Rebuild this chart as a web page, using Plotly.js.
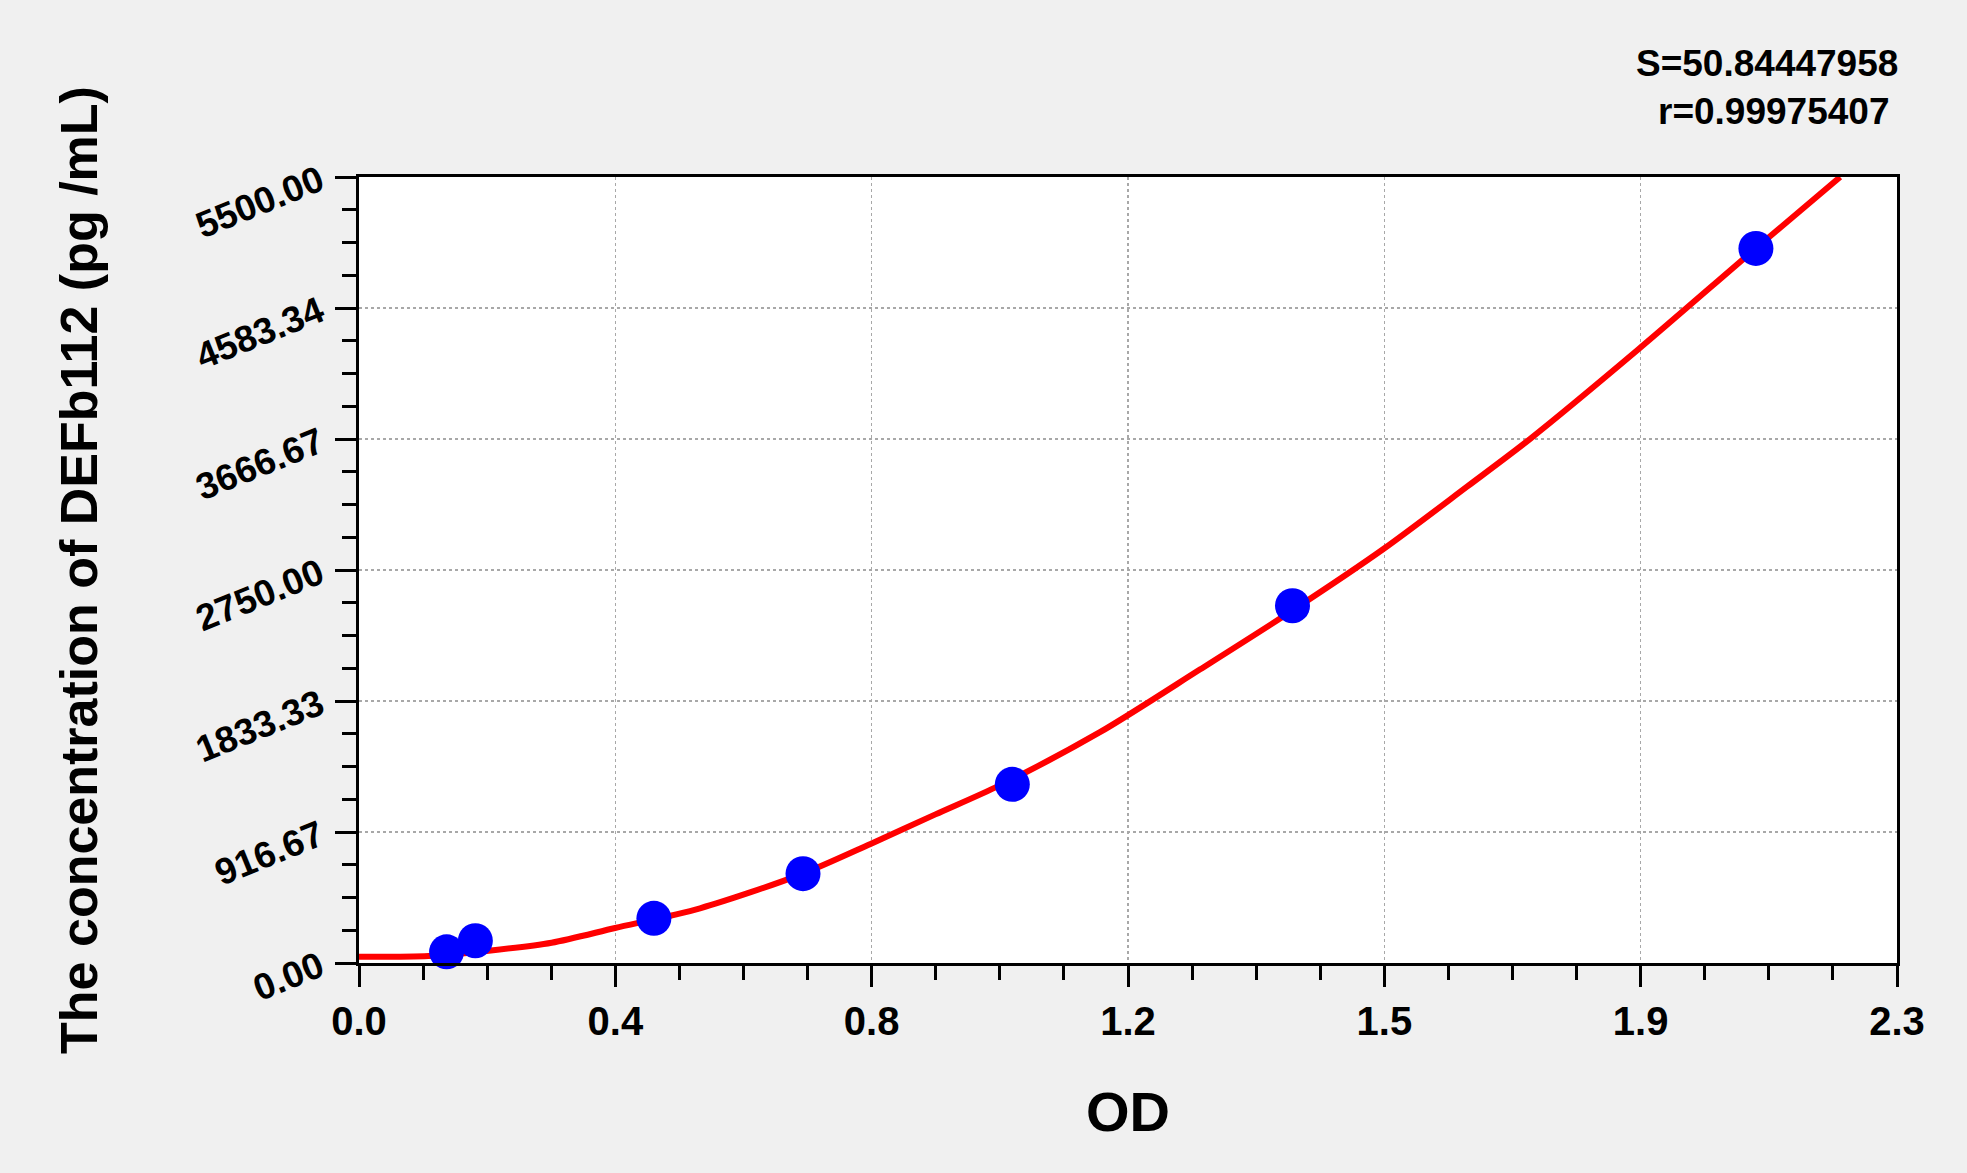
<!DOCTYPE html>
<html>
<head>
<meta charset="utf-8">
<script src="https://cdn.plot.ly/plotly-3.0.1.min.js"></script>
<style>
  html, body { margin: 0; padding: 0; background: #f0f0f0; }
  #chart { width: 1967px; height: 1173px; }
</style>
</head>
<body>
<div id="chart"></div>
<script>
// === Standard points (OD vs concentration) === //
var odValues = [0.131, 0.174, 0.441, 0.664, 0.977, 1.396, 2.089];
var concValues = [78, 156, 312.5, 625, 1250, 2500, 5000];

// === Fitted curve === //
var curveOD = [0, 0.104, 0.194, 0.288, 0.383, 0.510, 0.662, 0.765, 0.862, 0.959,
               1.108, 1.258, 1.397, 1.533, 1.657, 1.751, 1.912, 2.089, 2.215];
var curveConc = [44, 49, 86, 142, 245, 383, 622, 833, 1040, 1245,
                 1615, 2055, 2470, 2900, 3333, 3666, 4289, 5001, 5500];

// === Tick labels === //
var xTickVals = [0, 0.38333, 0.76667, 1.15, 1.53333, 1.91667, 2.3];
var xTickText = ['0.0', '0.4', '0.8', '1.2', '1.5', '1.9', '2.3'];
var yTickVals = [0, 916.67, 1833.33, 2750, 3666.67, 4583.34, 5500];
var yTickText = ['0.00', '916.67', '1833.33', '2750.00', '3666.67', '4583.34', '5500.00'];

var fitText = ['S=50.84447958', 'r=0.99975407'];

var fontFam = 'Liberation Sans, Arial, sans-serif';

var curve = {
    x: curveOD,
    y: curveConc,
    mode: 'lines',
    type: 'scatter',
    line: {color: '#ff0000', width: 6, shape: 'spline', smoothing: 0.8},
    hoverinfo: 'skip'
};

var points = {
    x: odValues,
    y: concValues,
    mode: 'markers',
    type: 'scatter',
    cliponaxis: false,
    marker: {color: '#0000ff', size: 35}
};

var axisCommon = {
    showline: true,
    linecolor: '#000',
    linewidth: 3,
    mirror: true,
    ticks: 'outside',
    ticklen: 21,
    tickwidth: 3,
    tickcolor: '#000',
    showgrid: true,
    gridcolor: '#a8a8a8',
    gridwidth: 1.5,
    griddash: 'dot',
    zeroline: false,
    tickmode: 'array'
};

var layout = {
    width: 1967,
    height: 1173,
    paper_bgcolor: '#f0f0f0',
    plot_bgcolor: '#ffffff',
    showlegend: false,
    margin: {l: 359, r: 70, t: 177, b: 210, autoexpand: false},
    xaxis: Object.assign({}, axisCommon, {
        range: [0, 2.3],
        tickvals: xTickVals,
        ticktext: xTickText,
        tickfont: {family: fontFam, size: 40, color: '#000', weight: 'bold'},
        minor: {dtick: 2.3 / 24, tick0: 0, ticks: 'outside', ticklen: 14, tickwidth: 3, tickcolor: '#000', showgrid: false},
        title: {text: 'OD', standoff: 50, font: {family: fontFam, size: 56, color: '#000', weight: 'bold'}}
    }),
    yaxis: Object.assign({}, axisCommon, {
        range: [0, 5500],
        tickvals: yTickVals,
        ticktext: yTickText,
        tickangle: -22,
        ticklabelstandoff: 8,
        tickfont: {family: fontFam, size: 37, color: '#000', weight: 'bold'},
        minor: {dtick: 5500 / 24, tick0: 0, ticks: 'outside', ticklen: 14, tickwidth: 3, tickcolor: '#000', showgrid: false},
        title: {text: 'The concentration of DEFb112 (pg /mL)', standoff: 76, font: {family: fontFam, size: 52, color: '#000', weight: 'bold'}}
    }),
    annotations: [
        {xref: 'paper', yref: 'paper', x: 1.002, y: 1.1438, xanchor: 'right', yanchor: 'middle',
         text: fitText[0], showarrow: false, font: {family: fontFam, size: 37, color: '#000', weight: 'bold'}},
        {xref: 'paper', yref: 'paper', x: 0.997, y: 1.0827, xanchor: 'right', yanchor: 'middle',
         text: fitText[1], showarrow: false, font: {family: fontFam, size: 37, color: '#000', weight: 'bold'}}
    ]
};

Plotly.newPlot('chart', [curve, points], layout, {displayModeBar: false, staticPlot: true});
</script>
</body>
</html>
